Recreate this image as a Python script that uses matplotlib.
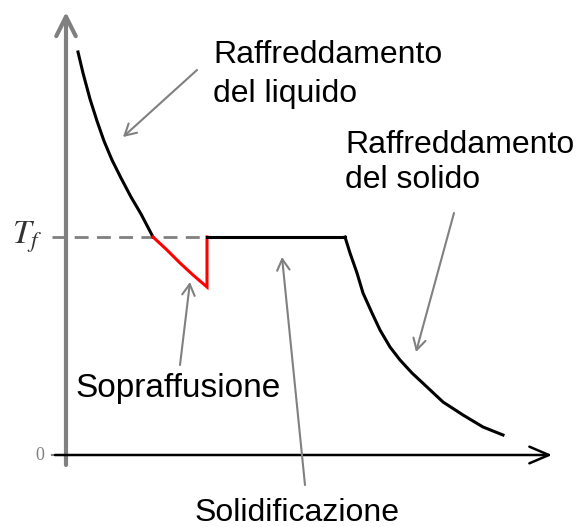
import matplotlib
matplotlib.use("Agg")
import matplotlib.pyplot as plt

# cooling curve, time vs temperature (arbitrary units, origin at the axes corner)
t_liquid = [12, 17, 24, 31, 38, 46, 55, 65, 75, 87]
T_liquid = [403, 382, 356, 334, 314, 295, 277, 258, 241, 218]

t_super = [87, 101, 114, 127, 141, 141]
T_super = [218, 205, 192, 180, 168, 218]

t_plateau = [141, 279]
T_plateau = [218, 218]

t_solid = [279, 284, 291, 297, 306, 314, 324, 334, 346, 361, 377, 397, 417, 437]
T_solid = [218, 202, 182, 162, 142, 125, 108, 95, 82, 68, 53, 40, 28, 20]

T_f = 218

# annotation texts (one entry per line) and their positions
label_lines = ["Raffreddamento", "del liquido",
               "Raffreddamento", "del solido",
               "Sopraffusione", "Solidificazione"]
label_pos = [(147, 392), (147, 353),
             (279, 302), (279, 267),
             (9, 58), (129, -66)]
label_sizes = [23, 23, 23, 23, 24, 23]

# pointer arrows: start -> end
pointers = [
    ((131, 385), (57, 318)),
    ((388, 242), (350, 103)),
    ((114, 90), (124, 173)),
    ((239, -30), (216, 198)),
]

gray = "#808080"

fig = plt.figure(figsize=(5.84, 5.27), dpi=100)
ax = fig.add_axes([0, 0, 1, 1])
ax.set_xlim(-66, 518)
ax.set_ylim(-72, 455)
ax.axis("off")

# axes with open arrow heads
ax.annotate("", xy=(0, 443), xytext=(0, -10),
            arrowprops=dict(arrowstyle="->, head_length=1.4, head_width=0.7",
                            color=gray, lw=3, shrinkA=0, shrinkB=0))
ax.annotate("", xy=(486, 0), xytext=(-11, 0),
            arrowprops=dict(arrowstyle="->, head_length=1.4, head_width=0.6",
                            color="black", lw=1.8, shrinkA=0, shrinkB=0))
ax.plot([-14, -11], [0, 0], color=gray, lw=1.5)

# melting temperature
ax.plot([-14, 141], [T_f, T_f], color=gray, lw=2, dashes=(5, 3))
ax.text(-24, T_f, r"$T_f$", fontsize=24, ha="right", va="center",
        math_fontfamily="stix", color="#333333")
ax.text(-22, 0, "0", fontsize=13, ha="right", va="center",
        family="Liberation Serif", color=gray)

# curve
ax.plot(t_liquid, T_liquid, color="black", lw=2.2)
ax.plot(t_super, T_super, color="red", lw=2.2, solid_joinstyle="miter")
ax.plot(t_plateau, T_plateau, color="black", lw=2.2)
ax.plot(t_solid, T_solid, color="black", lw=2.2, solid_joinstyle="round")

for text, pos, size in zip(label_lines, label_pos, label_sizes):
    ax.text(pos[0], pos[1], text, fontsize=size, family="Liberation Sans",
            ha="left", va="baseline")

for start, end in pointers:
    ax.annotate("", xy=end, xytext=start,
                arrowprops=dict(arrowstyle="->, head_length=0.8, head_width=0.45",
                                color=gray, lw=1.5, shrinkA=0, shrinkB=0))

fig.savefig("out.png", dpi=100)
